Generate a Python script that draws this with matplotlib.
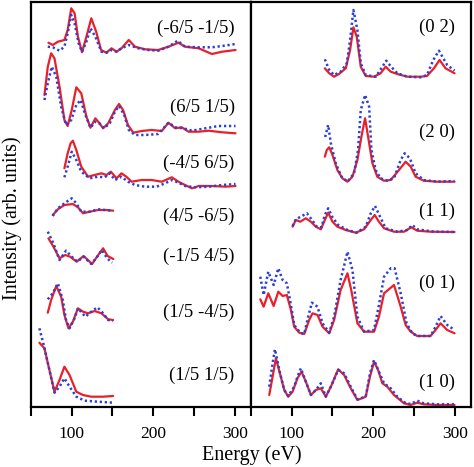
import numpy as np
import matplotlib
matplotlib.use('Agg')
import matplotlib.pyplot as plt

plt.rcParams['font.family'] = ['Liberation Serif', 'DejaVu Serif']

RED = '#e8202a'
BLUE = '#2b3fd6'

# left panel: fractional-order spots (energy in eV, intensity arb. units, stacked)
left_labels = ['(-6/5 -1/5)', '(6/5 1/5)', '(-4/5 6/5)', '(4/5 -6/5)',
               '(-1/5 4/5)', '(1/5 -4/5)', '(1/5 1/5)']
left_label_y = [379, 300, 244, 191, 151, 95, 32]

l1_exp_e = [71.4, 76.7, 83, 91, 95, 99.4, 103.5, 107.6, 112.6, 118, 124, 130, 136, 142.6,
            148.8, 155, 161, 170, 177.6, 190, 206, 218.7, 231, 239, 255.8, 272, 284.6, 301]
l1_exp = [364.3, 362, 365.3, 367, 377, 398.7, 393.7, 370.3, 354.7, 370.3, 388.7, 375.3, 357, 354.3,
          358.7, 355.3, 358.7, 367, 360.3, 357.7, 357, 360.3, 364.3, 360.3, 358.7, 353, 355.3, 357]
l1_th_e = [70.6, 76.7, 85, 91, 95, 99.4, 103.5, 108.4, 112.6, 118, 123, 129, 136.4, 142.6,
           148.8, 155, 161, 170, 181.7, 194, 206, 218.7, 230, 239, 255.8, 272, 284.6, 301]
l1_th = [360.3, 359.7, 356.3, 360.3, 373.7, 392, 383.7, 363.7, 355.3, 365.3, 378.7, 370.3, 355.3, 354.3,
         357, 355.3, 358.7, 362, 358.7, 357, 356.3, 360.3, 366.3, 360.3, 359.7, 359.7, 361, 363]

l2_exp_e = [66.5, 70.6, 74.7, 78.8, 85, 91, 95, 100, 105.6, 111.7, 118, 123, 129, 134, 138.5, 144.7,
            153, 158, 163, 169, 175.5, 185.8, 198, 210.5, 218.7, 227, 235, 243.4, 255.8, 268, 284.6, 301]
l2_exp = [312, 340.3, 353.7, 348.7, 320.3, 287, 281, 297, 319.7, 313.7, 290.3, 279.3, 288.7, 283.7, 278.7, 283.7,
          297, 303, 297, 282, 274.3, 276, 277, 276, 284.3, 278.7, 279.7, 275.3, 275.3, 276.3, 274.7, 273.7]
l2_th_e = [66.5, 70.6, 75.5, 81, 87, 93, 99.4, 105.6, 111, 116, 123, 129, 134, 139.7, 146.7, 153, 158,
           164.4, 170, 177.6, 190, 206, 218.7, 227, 237, 247.5, 264, 280, 301]
l2_th = [307, 323.7, 340.3, 330.3, 300.3, 282, 287, 302, 307, 293.7, 279.3, 285.3, 283.7, 278.7, 283.7, 295.3, 301,
         292, 277, 272, 272, 273, 284.3, 279.7, 278.7, 276.3, 278.7, 281, 281]

l3_exp_e = [91, 95, 98.6, 101.4, 105.6, 111.7, 120, 128, 136.4, 142.6, 148, 155, 161, 167, 173.5,
            185.8, 198, 210.5, 222.8, 231, 239, 247.5, 255.8, 272, 288.7, 301]
l3_exp = [238.7, 253.7, 263.7, 266.3, 257, 240.3, 230.3, 232, 233.7, 232, 235.3, 228.7, 233.7, 230.3, 225.3,
          227, 227, 225.3, 229.7, 225.3, 222, 218.7, 221, 221, 220.3, 221]
l3_th_e = [91, 95, 100, 105.6, 111.7, 122, 132.3, 140.5, 146.7, 153, 161, 169, 177.6, 190, 204,
           214.6, 222.8, 231, 239, 251.6, 268, 284.6, 301]
l3_th = [229.7, 240.3, 255.3, 247, 235.3, 228.7, 230.3, 229.7, 233.7, 227, 230.3, 225.3, 222, 220.3, 220.3,
         223.7, 227, 224.3, 221, 219.7, 220.3, 222, 223]

l4_exp_e = [76.7, 83, 91, 101.4, 107.6, 113.8, 122, 132.3, 142.6, 150.8]
l4_exp = [192, 197.7, 202, 203, 199.7, 193.7, 195.3, 197, 197, 196.3]
l4_th_e = [76.7, 83, 91, 100, 105.6, 111.7, 122, 132.3, 140.5, 150.8]
l4_th = [191, 198.7, 203.7, 208.7, 203.7, 195.3, 195.3, 197.7, 197, 196.3]

l5_exp_e = [71.4, 77.5, 85, 92, 98, 106, 114.6, 125, 131, 138.5, 144, 151]
l5_exp = [168.7, 160.3, 148.7, 152, 150.3, 145.3, 151, 143, 150.3, 158.7, 151, 148]
l5_th_e = [70.6, 77.5, 85, 93, 100, 107, 114.6, 124, 132, 137, 143.5, 149.6]
l5_th = [175.3, 163.7, 147, 156.3, 150.3, 145.3, 150.3, 143, 151, 157, 148.7, 144.3]

l6_exp_e = [70.6, 74.7, 81, 87, 91, 96, 101.4, 107.6, 113.8, 120, 128, 136.4, 144.7, 150.8]
l6_exp = [94.3, 107, 121, 110.3, 92, 78.7, 85.3, 98.7, 95.3, 93.7, 96, 93.7, 87.7, 87]
l6_th_e = [70.6, 76.7, 83, 89, 93, 97.3, 103.5, 107.6, 116.7, 124, 131.5, 138.5, 144.7, 150.8]
l6_th = [107.7, 113.7, 123.7, 107, 87, 78.7, 88.7, 98.7, 90.3, 95.3, 99.7, 93.7, 87, 86.3]

l7_exp_e = [60.3, 66.5, 72.6, 78.8, 85, 91, 97.3, 105.6, 113.8, 124, 138.5, 150.8]
l7_exp = [64.3, 58.7, 37, 15.3, 27, 40.3, 32, 15.3, 12, 10.3, 10.3, 11]
l7_th_e = [60.3, 65.6, 72.6, 78.8, 85, 91, 97.3, 105.6, 116, 132.3, 150.8]
l7_th = [78.7, 62, 37, 14.3, 20.3, 28.7, 20.3, 10.3, 6.3, 5.3, 4.3]

# right panel: integer-order beams
right_labels = ['(0 2)', '(2 0)', '(1 1)', '(0 1)', '(1 0)']
right_label_y = [380, 275, 196, 124, 25]

r1_exp_e = [140.6, 146, 152, 158, 166.3, 171.6, 175.7, 179.8, 184.7, 190.8, 201, 209, 215.3, 221.4,
            229.6, 241.8, 258, 266, 274.5, 281.4, 288.8, 299.8]
r1_exp = [338.7, 333.7, 330.3, 333, 338.7, 357, 379.7, 370.3, 340.3, 331, 330.3, 333.7, 340.3, 335.3,
          333, 330.3, 330.3, 331, 338.7, 347, 338.7, 333.7]
r1_th_e = [140.6, 146, 152, 160, 167.6, 171.6, 175.7, 180.6, 184.7, 190.8, 203, 210, 216, 222,
           229.6, 241.8, 258, 266, 273.7, 280.6, 290.8, 299.8]
r1_th = [347.7, 337, 332, 335.3, 343.7, 367, 397, 377, 343.7, 332, 330.3, 338.7, 346.3, 340.3,
         333.7, 330.3, 329.7, 332, 347, 356.3, 342, 336.3]

r2_exp_e = [140.6, 143, 146, 150, 156, 162.2, 168.4, 174.5, 180.6, 185.5, 190, 193.7, 199, 205,
            213, 221.4, 231.6, 239.8, 246, 252, 262, 278.6, 299.8]
r2_exp = [250.3, 257, 259.7, 252, 237, 228.7, 225.3, 230.3, 247, 270.3, 288.7, 270.3, 243.7, 230.3,
          226.3, 227, 237, 245.3, 240.3, 230.3, 226.3, 225.3, 225.3]
r2_th_e = [141, 144.7, 148, 154, 161, 168.4, 176.5, 181.4, 184.7, 190, 195, 197.8, 203, 209,
           217, 225.5, 233.7, 238.6, 245, 252, 262, 278.6, 299.8]
r2_th = [270, 282, 263.7, 243.7, 230.3, 225.3, 233.7, 257, 297, 312, 300.3, 257, 237, 228.7,
         226.3, 228.7, 247, 253.7, 248.7, 233.7, 227, 225.3, 226]

r3_exp_e = [101, 105, 110.4, 117.3, 123.5, 129.6, 135.7, 140.6, 144.7, 150, 156, 166.3, 178.6, 188.8,
            197, 201.8, 207, 213.3, 225.5, 237.8, 246.7, 254, 270.4, 299.8]
r3_exp = [180.3, 187, 185.3, 188.7, 185.3, 180.3, 177.7, 187, 194.3, 185.3, 180.3, 177, 174.3, 177.7,
          187, 192, 185.3, 178.7, 175.3, 175.3, 179.7, 176.3, 175.3, 175]
r3_th_e = [101, 105, 111, 118.6, 124.3, 130.8, 136.5, 140.6, 144.7, 150, 157, 168.4, 179.8, 190.8,
           197, 202.2, 208.4, 215.3, 229.6, 241.8, 248, 254, 260, 274.5, 299.8]
r3_th = [181, 187.7, 190.3, 193.7, 187.7, 180.3, 179.7, 192, 198.7, 189.7, 182, 177, 174.3, 180.3,
         193.7, 201, 190.3, 178.7, 175.3, 177, 182, 177.7, 177, 175.3, 175]

r4_exp_e = [61.4, 65.5, 71.2, 77.8, 83.5, 88.8, 94, 99, 103, 109.2, 115.3, 121.4, 125.5, 131.6, 137.8,
            146, 152, 160, 168.4, 173, 180.6, 188.8, 201, 207, 213.3, 225.5, 233.7, 239.8, 246, 254,
            270.4, 276.5, 282.7, 290.8, 299.8]
r4_exp = [107.7, 100.3, 113.7, 101, 115.3, 111, 112, 97, 80.3, 74.3, 73, 87, 93.7, 92, 80.3,
          73.7, 87, 117, 133.7, 117, 83.7, 75.3, 75.3, 90.3, 113.7, 122, 100.3, 82, 75.3, 71,
          71, 77, 83.7, 77, 73.7]
r4_th_e = [61.4, 65.5, 71.2, 77.8, 83.5, 88.8, 94, 99, 103, 110.4, 115.3, 120.2, 124.7, 131.6, 137.8,
           146, 152, 160, 168.4, 174.5, 180.6, 188.8, 201, 207, 213.3, 221.4, 226.3, 233.7, 241, 248,
           254, 270.4, 276.5, 282.7, 290.8, 299.8]
r4_th = [130.3, 112, 135.3, 122, 138.7, 127, 123.7, 102, 82, 74.3, 73, 90.3, 104.3, 100.3, 83.7,
         74.3, 90.3, 127, 155.3, 137, 90.3, 75.3, 77, 102, 130.3, 138.7, 138.7, 113.7, 83.7, 73.7,
         71, 71, 80.3, 91, 82, 77]

r5_exp_e = [72.4, 76.5, 80.6, 86, 90.8, 95.7, 101, 107, 112, 117.3, 123.5, 129.6, 135.7, 141.8, 148,
            157, 164.3, 172.4, 180.6, 190.8, 196, 201, 206, 211.2, 217.3, 225.5, 237.8, 246, 254,
            262, 278.6, 299.8]
r5_exp = [12, 30.3, 48.7, 32, 17, 10.3, 15.3, 28.7, 35.3, 25.3, 12, 17, 18.7, 10.3, 20.3,
          37.7, 32, 18.7, 7, 10.3, 30.3, 45.3, 37, 23.7, 20.3, 12, 3.7, 2, 4.3,
          2.7, 2, 2]
r5_th_e = [72.4, 76.5, 79.4, 84.7, 90.8, 95.7, 103, 107, 111.2, 117.3, 123.5, 129.6, 135.7, 141.8, 148,
           157, 164.3, 172.4, 180.6, 190.8, 196, 201, 207, 213.3, 221.4, 229.6, 240, 246, 254,
           262, 278.6, 299.8]
r5_th = [20.3, 43.7, 57.7, 37, 17, 11, 20.3, 30.3, 38.7, 25.3, 12, 17, 23.7, 10.3, 20.3,
         37, 33.7, 20.3, 7.7, 10.3, 33.7, 47, 35.3, 23.7, 18.7, 10.3, 3.7, 3, 6.3,
         3.7, 2.7, 2.7]

left_curves = [(l1_exp_e, l1_exp, l1_th_e, l1_th), (l2_exp_e, l2_exp, l2_th_e, l2_th),
               (l3_exp_e, l3_exp, l3_th_e, l3_th), (l4_exp_e, l4_exp, l4_th_e, l4_th),
               (l5_exp_e, l5_exp, l5_th_e, l5_th), (l6_exp_e, l6_exp, l6_th_e, l6_th),
               (l7_exp_e, l7_exp, l7_th_e, l7_th)]
right_curves = [(r1_exp_e, r1_exp, r1_th_e, r1_th), (r2_exp_e, r2_exp, r2_th_e, r2_th),
                (r3_exp_e, r3_exp, r3_th_e, r3_th), (r4_exp_e, r4_exp, r4_th_e, r4_th),
                (r5_exp_e, r5_exp, r5_th_e, r5_th)]

fig = plt.figure(figsize=(4.74, 4.67), dpi=100)
W, H = 474, 467
ax_l = fig.add_axes([31 / W, 60 / H, 220 / W, 405 / H])
ax_r = fig.add_axes([251 / W, 60 / H, 220 / W, 405 / H])

for ax, curves, labels, label_y in [(ax_l, left_curves, left_labels, left_label_y),
                                    (ax_r, right_curves, right_labels, right_label_y)]:
    for ee, ie, et, it in curves:
        ax.plot(ee, ie, color=RED, lw=1.6, solid_joinstyle='round', solid_capstyle='round')
        ax.plot(et, it, color=BLUE, lw=1.8, linestyle=(0, (0.9, 1.1)))
    for lab, y in zip(labels, label_y):
        ax.text(300, y, lab, ha='right', va='center', fontsize=13.5)
    ax.set_xlim(50, 320)
    ax.set_ylim(0, 405)
    ax.set_yticks([])
    ax.set_xticks([100, 200, 300])
    ax.set_xticks([50, 150, 250], minor=True)
    ax.tick_params(axis='x', which='both', direction='out', length=6.5, width=1.5,
                   labelsize=12.5, pad=7)
    for sp in ax.spines.values():
        sp.set_linewidth(1.6)

fig.text(252 / W, 12 / H, 'Energy (eV)', ha='center', va='center', fontsize=14.5)
fig.text(12 / W, (H - 218) / H, 'Intensity (arb. units)', ha='center', va='center',
         rotation=90, fontsize=14.5)

fig.savefig('out.png', dpi=100)
